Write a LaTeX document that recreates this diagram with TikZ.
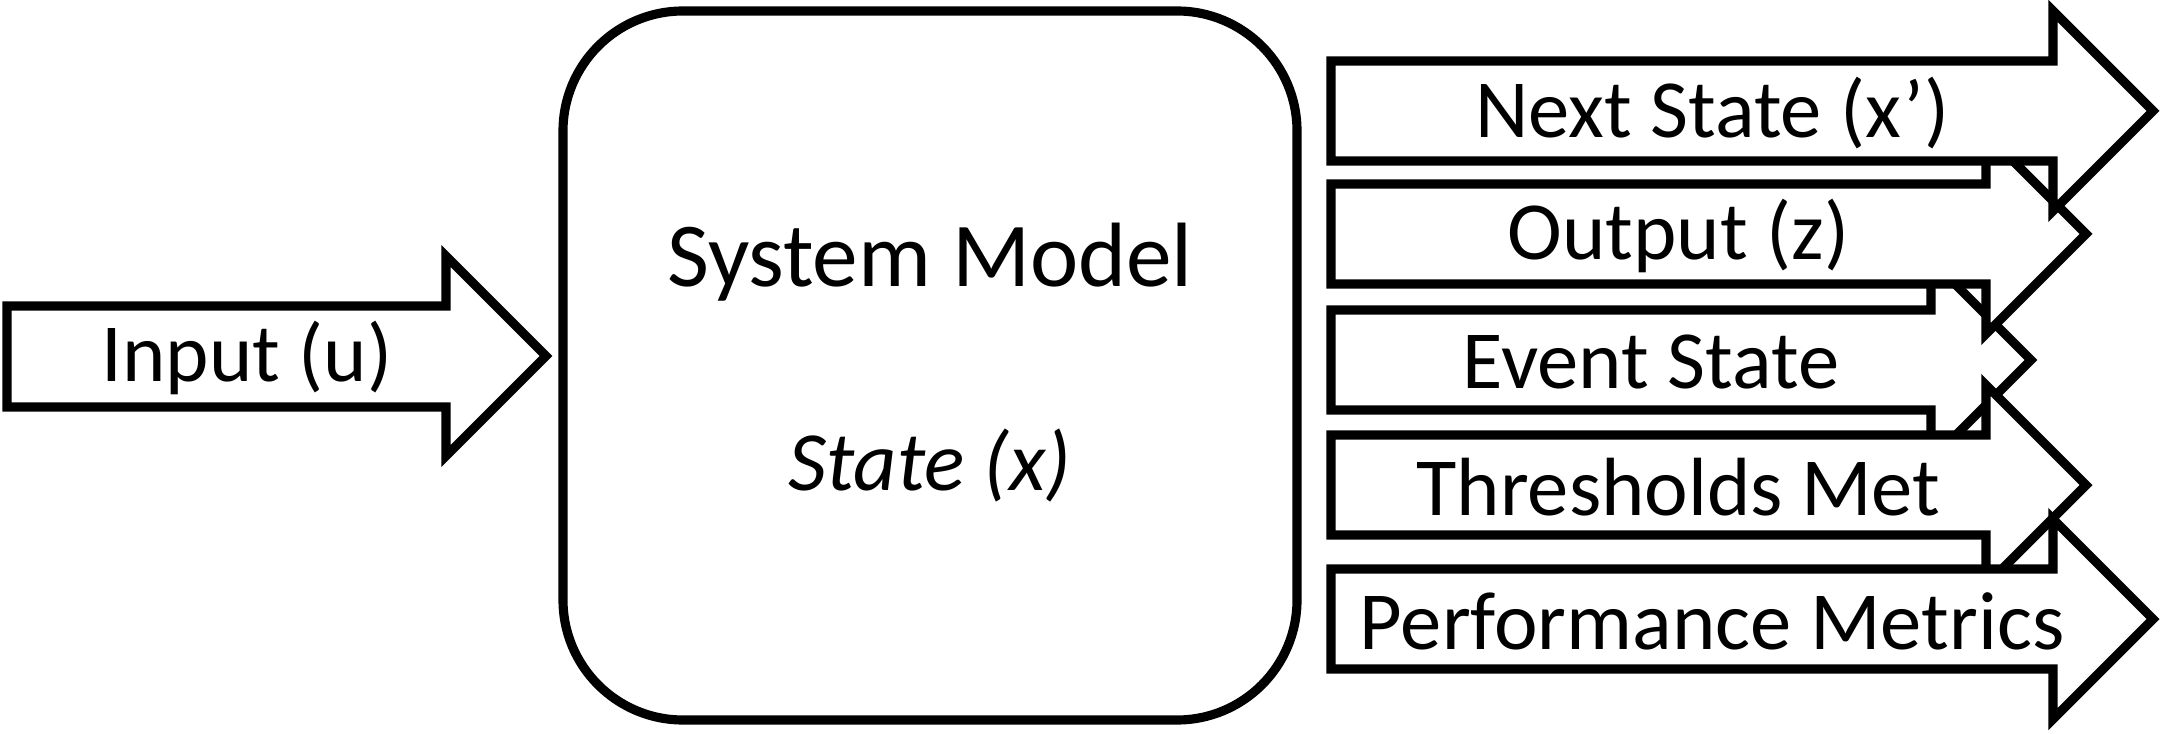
\documentclass[tikz,border=0pt]{standalone}
\usepackage{fontspec}
\setmainfont{Carlito}
\tikzset{
    blockarrow/.style={draw=black, fill=white, line width=2.6pt, line join=miter},
    arrowtext/.style={font=\fontsize{23.5}{28}\selectfont, inner sep=0pt},
}
\begin{document}
\begin{tikzpicture}
    \useasboundingbox (0,0) rectangle (21.63,7.33);
    % Input arrow
    \draw[blockarrow] (0.07,3.26) -- (4.46,3.26) -- (4.46,2.77) -- (5.46,3.77) -- (4.46,4.77) -- (4.46,4.27) -- (0.07,4.27) -- cycle;
    \node[arrowtext] (input) at (2.47,3.75) {Input (u)};

    % System Model
    \node[draw, line width=2.6pt, rounded corners=1.2cm, minimum width=7.34cm, minimum height=7.09cm] (model) at (9.30,3.675) {};
    \node[font=\fontsize{26}{31}\selectfont] (sysname) at (9.30,4.71) {System Model};
    \node[font=\fontsize{24}{29}\selectfont\itshape] (state) at (9.30,2.68) {State (x)};

    % Output arrows (lower ones first, so the upper ones lie on top)
    \foreach \y/\xb/\lbl/\nm in {3.73/19.31/Event State/event,
                                 4.99/19.86/Output (z)/output,
                                 2.48/19.86/Thresholds Met/thresholds,
                                 6.22/20.53/Next State (x’)/next,
                                 1.14/20.53/Performance Metrics/metrics}
    {
        \draw[blockarrow] (13.31,\y-0.5) -- (\xb,\y-0.5) -- (\xb,\y-1) -- (\xb+1,\y) -- (\xb,\y+1) -- (\xb,\y+0.5) -- (13.31,\y+0.5) -- cycle;
        \node[arrowtext] (\nm) at ({(13.31+\xb)/2+0.2},\y-0.02) {\lbl};
    }
\end{tikzpicture}
\end{document}
